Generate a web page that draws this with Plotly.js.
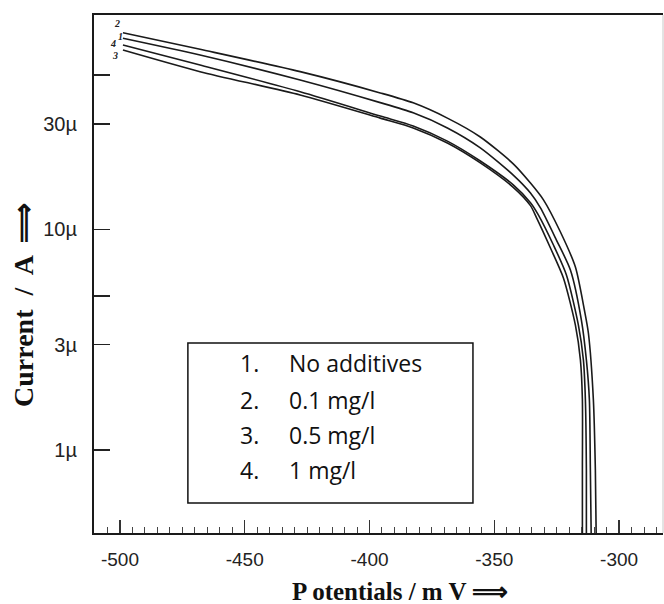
<!DOCTYPE html>
<html>
<head>
<meta charset="utf-8">
<script src="https://cdn.plot.ly/plotly-3.0.1.min.js"></script>
<style>html,body{margin:0;padding:0;background:#fff;}#chart{width:664px;height:604px;}</style>
</head>
<body>
<div id="chart"></div>
<script>
// Potential (mV) and current (µA)
const curveNames = ["1", "2", "3", "4"];
const legendNumbers = ["1.", "2.", "3.", "4."];
const legendLabels = ["No additives", "0.1 mg/l", "0.5 mg/l", "1 mg/l"];

const x1 = [-498.8, -467.9, -427.8, -395.7, -382.5, -368.8, -355.6, -342.4, -335.5, -331.5, -325.1, -319.5, -315.1, -313.1, -311.9, -311.5, -311.1];
const y1 = [73.4, 61.6, 47.5, 37.5, 33.7, 28.8, 23.4, 17.6, 14.6, 12.5, 8.94, 6.54, 3.88, 2.56, 1.69, 0.81, 0.35];

const x2 = [-498.8, -467.9, -427.8, -395.7, -382.5, -368.8, -355.6, -342.4, -335.5, -330.3, -323.5, -317.5, -313.9, -312.3, -310.3, -309.5, -309.1];
const y2 = [77.8, 65.4, 51.8, 41.5, 37.4, 31.9, 26.2, 19.8, 16.2, 13.6, 9.72, 6.75, 4.31, 3.39, 1.69, 0.81, 0.35];

const x3 = [-498.8, -467.9, -427.8, -395.7, -382.5, -368.8, -355.6, -342.4, -335.5, -333.1, -327.5, -322.3, -317.5, -315.5, -314.7, -314.7, -314.7];
const y3 = [64.9, 51.8, 40.6, 31.9, 28.8, 24.6, 20.0, 15.5, 12.8, 11.3, 8.23, 6.02, 3.68, 2.56, 1.69, 0.81, 0.35];

const x4 = [-498.8, -467.9, -427.8, -395.7, -382.5, -368.8, -355.6, -342.4, -335.5, -332.3, -326.3, -321.1, -316.3, -314.3, -313.5, -313.1, -313.1];
const y4 = [68.4, 55.5, 42.0, 32.6, 29.4, 25.1, 20.4, 15.9, 13.2, 11.6, 8.49, 6.21, 3.68, 2.56, 1.69, 0.81, 0.35];

const yTickVals = [1, 3, 5, 10, 30, 50];
const yTickText = ["1\u00b5", "3\u00b5", "", "10\u00b5", "30\u00b5", ""];
const xTickVals = [-500, -450, -400, -350, -300];
const xTickText = ["-500", "-450", "-400", "-350", "-300"];

const xs = [x1, x2, x3, x4];
const ys = [y1, y2, y3, y4];

const traces = xs.map((x, i) => ({
  x: x, y: ys[i], type: "scatter", mode: "lines", name: curveNames[i],
  line: {color: "#1a1a1a", width: 1.6, shape: "spline", smoothing: 0.7},
  showlegend: false, hoverinfo: "skip"
}));

// curve number labels near the start of each curve: [curve index, xshift, yshift]
const numberLabelPlacement = [[1, -6, 9], [0, -2, 2], [3, -10, 2], [2, -8, -5]];
const annotations = [];
numberLabelPlacement.forEach(p => {
  const i = p[0];
  annotations.push({
    x: xs[i][0], y: Math.log10(ys[i][0]), xref: "x", yref: "y",
    text: "<b><i>" + curveNames[i] + "</i></b>", showarrow: false,
    xshift: p[1], yshift: p[2],
    font: {family: "Liberation Serif", size: 10, color: "#222"}
  });
});

// legend box text
const rowY = [0.3283, 0.2568, 0.1892, 0.1216];
legendLabels.forEach((lab, i) => {
  annotations.push({xref: "paper", yref: "paper", x: 0.2531, y: rowY[i], xanchor: "left", yanchor: "middle",
    text: legendNumbers[i], showarrow: false, font: {family: "Open Sans", size: 23, color: "#111"}});
  annotations.push({xref: "paper", yref: "paper", x: 0.3392, y: rowY[i], xanchor: "left", yanchor: "middle",
    text: lab, showarrow: false, font: {family: "Open Sans", size: 23, color: "#111"}});
});

// axis titles
annotations.push({xref: "paper", yref: "paper", x: 0.538, y: -0.112, xanchor: "center", yanchor: "middle",
  text: "<b>P otentials / m V \u27f9</b>", showarrow: false,
  font: {family: "Liberation Serif", size: 25, color: "#111"}});
annotations.push({xref: "paper", yref: "paper", x: -0.125, y: 0.44, xanchor: "center", yanchor: "middle",
  textangle: -90, text: "<b>Current  /  A  \u27f9</b>", showarrow: false,
  font: {family: "Liberation Serif", size: 28, color: "#111"}});

const layout = {
  width: 664, height: 604,
  margin: {l: 94, r: 1, t: 15, b: 71, pad: 0},
  paper_bgcolor: "#fff", plot_bgcolor: "#fff",
  xaxis: {
    range: [-510.4, -282.4], showgrid: false, zeroline: false,
    showline: true, linecolor: "#1a1a1a", linewidth: 2, mirror: true,
    ticks: "inside", ticklen: 13, tickwidth: 1.2, tickcolor: "#333",
    tickvals: xTickVals, ticktext: xTickText, ticklabelstandoff: 8,
    tickfont: {family: "Liberation Sans", size: 19, color: "#222"},
    minor: {dtick: 5, tick0: -500, ticks: "inside", ticklen: 6, tickcolor: "#444", tickwidth: 1, showgrid: false}
  },
  yaxis: {
    type: "log", range: [-0.376, 1.971], showgrid: false, zeroline: false,
    showline: true, linecolor: "#1a1a1a", linewidth: 2, mirror: false,
    ticks: "inside", ticklen: 16, tickwidth: 1.5, tickcolor: "#222",
    tickvals: yTickVals, ticktext: yTickText, ticklabelstandoff: 11,
    tickfont: {family: "Liberation Sans", size: 20, color: "#222"}
  },
  shapes: [
    {type: "line", xref: "paper", yref: "paper", x0: 1, x1: 1, y0: 0, y1: 1, line: {color: "#c8c8c8", width: 1}},
    {type: "rect", xref: "paper", yref: "paper", x0: 0.165, x1: 0.666, y0: 0.0579, y1: 0.3668,
    line: {color: "#111", width: 1.5}, fillcolor: "rgba(255,255,255,1)", layer: "above"}],
  annotations: annotations
};

Plotly.newPlot("chart", traces, layout, {displayModeBar: false, staticPlot: true});
</script>
</body>
</html>
